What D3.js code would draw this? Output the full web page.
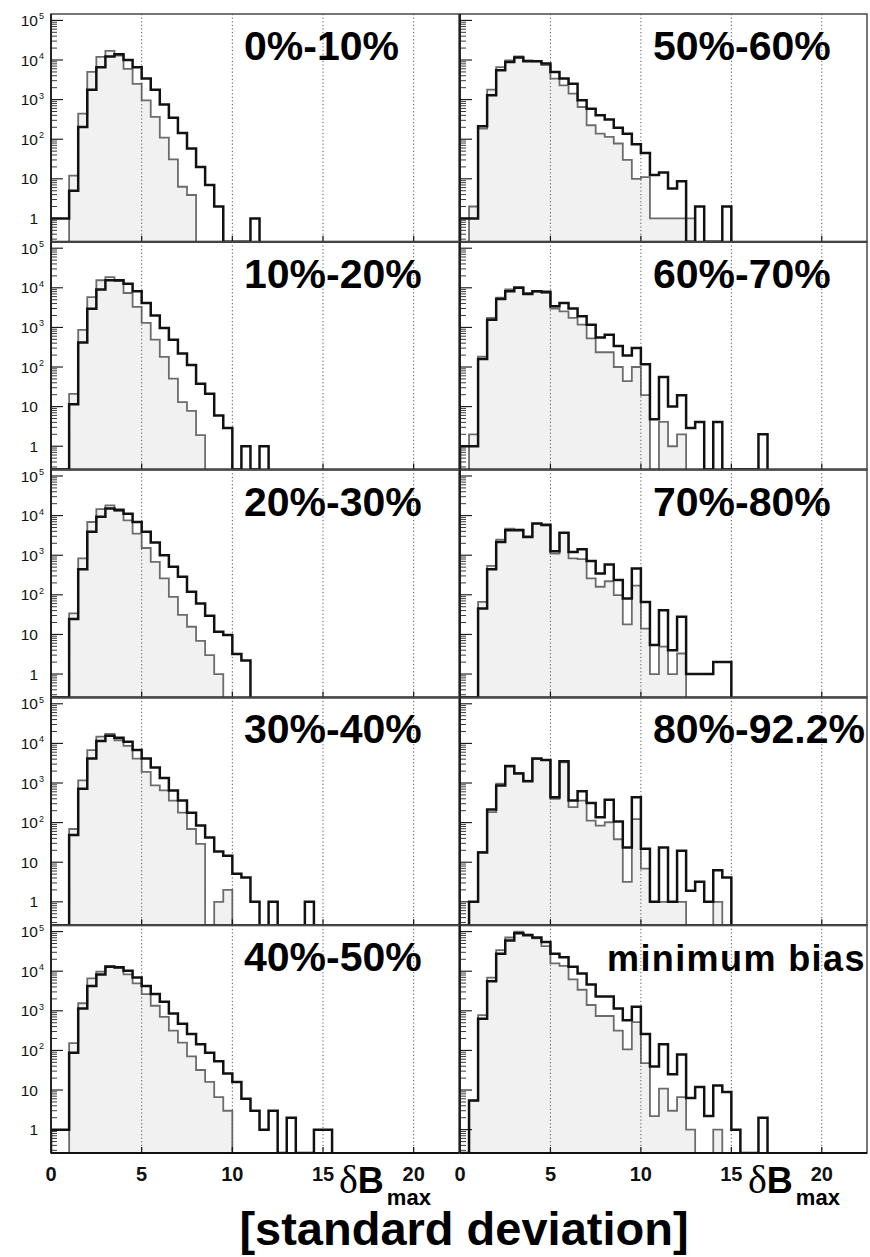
<!DOCTYPE html>
<html>
<head>
<meta charset="utf-8">
<script src="https://cdn.jsdelivr.net/npm/d3@7"></script>
<style>
  html, body { margin: 0; padding: 0; background: #fff; }
  svg { display: block; }
  text { font-family: "Liberation Sans", Arial, Helvetica, sans-serif; }
</style>
</head>
<body>
<svg id="chart" width="870" height="1257"></svg>
<script>
// δB_max distributions per centrality class, 0.5-wide bins starting at 0.
// "line" = black outline histogram, "fill" = grey filled histogram.
const binWidth = 0.5;

const panelLabels = ["0%-10%", "10%-20%", "20%-30%", "30%-40%", "40%-50%",
                     "50%-60%", "60%-70%", "70%-80%", "80%-92.2%", "minimum bias"];

const line00_10 = [1,1,5,204,1770,6600,12300,13900,10000,6600,3400,1770,750,350,144,58,20,7,2,0,0,0,1];
const fill00_10 = [0,0,12,445,5000,12000,17000,13000,6000,2500,960,365,110,31,6.3,3.9];

const line10_20 = [0,0,11.5,415,2950,9100,15500,15500,12600,8200,4150,2000,960,490,220,112,38,21,6,2.9,0,1,0,1];
const fill10_20 = [0,0,21,870,5800,15500,18600,14800,7400,3300,1300,490,180,51,13,7.8,1.9];

const line20_30 = [0,0,24.5,445,3900,9300,15000,14000,11200,6900,3900,2100,1000,510,285,120,60,29.5,11.7,9.6,3.2,2.2];
const fill20_30 = [0,0,34,830,6900,14500,18200,13000,7600,3500,1520,680,260,89,31,15.6,6.9,3,1];

const line30_40 = [0,0,49,720,4150,11500,15500,13900,11000,6800,4150,2450,1340,650,360,178,84,42,18.7,14.5,5.1,4.1,1,0,1,0,0,0,1];
const fill30_40 = [0,0,69,1170,6800,14800,17300,12000,8700,4150,1900,870,650,360,178,69,29,0,1,2];

const line40_50 = [1,1,87,1150,4200,8300,13000,12500,10200,6900,4200,2650,1700,850,470,260,143,87,53,26,16,6,3,1,3,0,2,0,0,1,1];
const fill40_50 = [0,0,152,1550,6600,9800,13700,12000,8300,4900,2650,1340,700,315,158,71,32,16,6.6,3];

const line50_60 = [1,1,213,1290,5500,8900,11500,9300,9300,8100,5000,3400,2500,960,590,400,315,195,138,75,45,12.4,14.5,5.7,8.7,0,2,0,0,2];
const fill50_60 = [0,2,186,1780,6600,9800,12300,9800,9300,7400,3400,2300,1420,650,225,138,114,78,30,10,11,1,1,1,1,1];

const line60_70 = [1,1,160,1560,5200,8200,10000,7000,8200,8000,3400,4150,3000,1900,1170,560,650,340,195,300,117,4.8,56,10,19.5,2.9,4.1,0,4.1,0,0,0,0,2];
const fill60_70 = [0,2,183,1740,5600,9100,10400,7400,8000,7400,3000,2550,1740,1170,530,236,236,100,44,100,19.5,0,4.1,1,2];

const line70_80 = [0,0,45,445,2170,4250,4250,2900,6300,5900,1260,3700,1210,1420,710,345,580,235,81,460,66,5.4,41,4,28,1,1,1,2,2];
const fill70_80 = [0,0,66,540,2470,4700,4500,3000,6300,5600,1100,3600,830,800,260,160,220,98,18,170,14,1,4.9,1,3.3];

const line80_92 = [0,1,17.6,215,870,2700,1740,1100,4150,3800,440,3550,360,615,315,137,380,106,23.6,440,22,1,23.6,1,19.5,1.9,3.2,1,6.3,4.1];
const fill80_92 = [0,1,18.3,183,960,2600,1800,1150,4000,3800,400,3300,245,360,112,84,102,38,3.2,123,6.9,1,1,1,1,0,0,0,1];

const lineMinBias = [0,5.4,630,5600,27500,60000,91000,81000,71000,55000,27500,22500,13000,8700,4600,2300,2300,1150,575,1260,260,39,143,25,79,6.3,12,2.2,13,8.9,1,0,0,2];
const fillMinBias = [0,5.4,775,6900,34000,71000,100000,85000,68000,43000,15800,13700,6200,3400,1400,740,740,315,106,520,48,2.2,10.8,3,6.6,1,0,0,1];

const lineSeries = [line00_10, line10_20, line20_30, line30_40, line40_50,
                    line50_60, line60_70, line70_80, line80_92, lineMinBias];
const fillSeries = [fill00_10, fill10_20, fill20_30, fill30_40, fill40_50,
                    fill50_60, fill60_70, fill70_80, fill80_92, fillMinBias];

const yTickValues = [1, 10, 100, 1000, 10000, 100000];
const xTickValues = [0, 5, 10, 15, 20];
const gridValues = [5, 10, 15, 20];
const axisTitle = { greek: "δ", main: "B", sub: "max" };
const bottomTitle = "[standard deviation]";

// ---- layout ----
const svg = d3.select("#chart");
const columns = [[51, 459], [460, 867]];
const rowTop = 14, rowH = 227.8, nRows = 5;
const xDomain = [0, 22.5];
const yDomain = [0.257, 1.45e5];

const panels = panelLabels.map((label, i) => ({
  label, line: lineSeries[i], fill: fillSeries[i],
  col: Math.floor(i / nRows), row: i % nRows, idx: i
}));

// step outline: starts and ends on the lower edge of the frame
function stepPoints(values) {
  const pts = [[0, 0]];
  values.forEach((v, i) => pts.push([i * binWidth, v]));
  const end = values.length * binWidth;
  pts.push([end, values[values.length - 1]]);
  pts.push([end, 0]);
  return pts;
}

panels.forEach(p => {
  const [x0, x1] = columns[p.col];
  const top = rowTop + p.row * rowH;
  const bottom = top + rowH;
  const x = d3.scaleLinear().domain(xDomain).range([x0, x1]);
  const y = d3.scaleLog().domain(yDomain).range([bottom, top]);
  const yv = v => (v > 0 ? y(v) : bottom);

  const g = svg.append("g");
  const clipId = "clip" + p.idx;
  g.append("clipPath").attr("id", clipId)
    .append("rect").attr("x", x0).attr("y", top).attr("width", x1 - x0).attr("height", rowH);

  const body = g.append("g").attr("clip-path", `url(#${clipId})`);

  // grey filled histogram
  const area = d3.area().curve(d3.curveStepAfter)
    .x(d => x(d[0])).y0(bottom).y1(d => yv(d[1]));
  const fillPts = stepPoints(p.fill);
  body.append("path").datum(fillPts).attr("d", area)
    .attr("fill", "#f1f1f1").attr("stroke", "none");
  const line = d3.line().curve(d3.curveStepAfter).x(d => x(d[0])).y(d => yv(d[1]));
  body.append("path").datum(fillPts).attr("d", line)
    .attr("fill", "none").attr("stroke", "#6c6c6c").attr("stroke-width", 1.8);

  // dotted vertical grid
  body.selectAll("line.grid").data(gridValues).join("line")
    .attr("x1", d => x(d)).attr("x2", d => x(d)).attr("y1", top).attr("y2", bottom)
    .attr("stroke", "#555").attr("stroke-width", 1).attr("stroke-dasharray", "1.2,2.4");

  // black outline histogram
  body.append("path").datum(stepPoints(p.line)).attr("d", line)
    .attr("fill", "none").attr("stroke", "#111").attr("stroke-width", 2.5)
    .attr("stroke-linejoin", "miter");

  // frame
  g.append("rect").attr("x", x0).attr("y", top).attr("width", x1 - x0).attr("height", rowH)
    .attr("fill", "none").attr("stroke", "#4a4a4a").attr("stroke-width", 1.5);
  g.append("line").attr("x1", x0).attr("x2", x1).attr("y1", bottom).attr("y2", bottom)
    .attr("stroke", "#111").attr("stroke-width", 2);
  g.append("line").attr("x1", x0).attr("x2", x0).attr("y1", top).attr("y2", bottom)
    .attr("stroke", "#111").attr("stroke-width", 1.6);

  // log ticks on the left edge, pointing inward
  const minor = [];
  for (let e = -1; e <= 5; e++) for (let m = 2; m <= 9; m++) {
    const v = m * Math.pow(10, e);
    if (v > yDomain[0] && v < yDomain[1]) minor.push(v);
  }
  g.selectAll("line.minor").data(minor).join("line")
    .attr("x1", x0).attr("x2", x0 + 6).attr("y1", d => y(d)).attr("y2", d => y(d))
    .attr("stroke", "#222").attr("stroke-width", 0.9);
  g.selectAll("line.major").data(yTickValues).join("line")
    .attr("x1", x0).attr("x2", x0 + 12).attr("y1", d => y(d)).attr("y2", d => y(d))
    .attr("stroke", "#111").attr("stroke-width", 1.1);

  // x ticks along the bottom edge
  g.selectAll("line.xt").data(xTickValues.filter(v => v > 0)).join("line")
    .attr("x1", d => x(d)).attr("x2", d => x(d)).attr("y1", bottom).attr("y2", bottom - 6)
    .attr("stroke", "#111").attr("stroke-width", 1.2);

  // y tick labels on the left column
  if (p.col === 0) {
    yTickValues.forEach(v => {
      const e = Math.round(Math.log10(v));
      const ty = y(v);
      g.append("text").attr("x", 38).attr("y", ty + 5.6).attr("text-anchor", "end")
        .attr("font-size", 15.5).attr("fill", "#111").text(e === 0 ? "1" : "10");
      if (e >= 2) {
        g.append("text").attr("x", 39).attr("y", ty - 1).attr("font-size", 9)
          .attr("fill", "#111").text(String(e));
      }
    });
  }

  // panel label
  const isMB = p.label === "minimum bias";
  g.append("text")
    .attr("x", isMB ? 607 : x0 + 193)
    .attr("y", top + 46)
    .attr("font-size", isMB ? 36 : 41)
    .attr("font-weight", "bold")
    .attr("letter-spacing", isMB ? 1.4 : 0)
    .attr("fill", "#000")
    .text(p.label);

  // x tick labels and axis title on the bottom row
  if (p.row === nRows - 1) {
    g.selectAll("text.xl").data(xTickValues).join("text")
      .attr("x", d => x(d)).attr("y", bottom + 27.5).attr("text-anchor", "middle")
      .attr("font-size", 20).attr("font-weight", "bold").attr("fill", "#111")
      .text(d => d);
    const t = g.append("text").attr("x", x0 + 288).attr("y", bottom + 40);
    t.append("tspan").attr("font-family", '"Liberation Serif", "DejaVu Serif", serif')
      .attr("font-size", 40).text(axisTitle.greek);
    t.append("tspan").attr("font-size", 36).attr("font-weight", "bold").text(axisTitle.main);
    t.append("tspan").attr("font-size", 22).attr("font-weight", "bold")
      .attr("dx", 3).attr("dy", 12).text(axisTitle.sub);
  }
});

svg.append("text").attr("x", 464).attr("y", 1245).attr("text-anchor", "middle")
  .attr("font-size", 47).attr("font-weight", "bold").attr("fill", "#000")
  .text(bottomTitle);
</script>
</body>
</html>
